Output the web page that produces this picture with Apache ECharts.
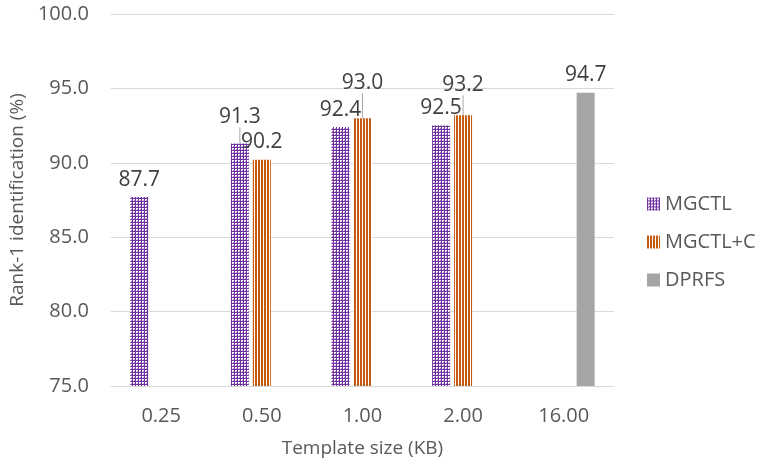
<!DOCTYPE html>
<html>
<head>
<meta charset="utf-8">
<script src="https://cdn.jsdelivr.net/npm/echarts@6/dist/echarts.min.js"></script>
<style>
  html, body { margin: 0; padding: 0; background: #fff; }
  #container { width: 762px; height: 468px; }
</style>
</head>
<body>
<div id="container"></div>
<script>
var sizes = ['0.25', '0.50', '1.00', '2.00', '16.00'];
var mgctl = [87.7, 91.3, 92.4, 92.5, null];
var mgctlC = [null, 90.2, 93.0, 93.2, null];
var dprfs = [null, null, null, null, 94.7];
var yTicks = [75, 80, 85, 90, 95, 100];

// labels that Excel pushed up to avoid overlap (extra lift in px)
var liftMgctl = [0, 9, 0, 0, 0];
var liftMgctlC = [0, 0, 18, 13, 0];

function makeTile(kind) {
    var c = document.createElement('canvas');
    var ctx = c.getContext('2d');
    if (kind === 'check') {
        c.width = 3; c.height = 3;
        ctx.fillStyle = '#ffffff';
        ctx.fillRect(0, 0, 3, 3);
        ctx.fillStyle = '#7030A0';
        ctx.fillRect(0, 0, 3, 1);
        ctx.fillRect(0, 0, 1, 3);
        ctx.fillStyle = '#B48FD0';
        ctx.fillRect(2, 2, 1, 1);
    } else {
        c.width = 3; c.height = 4;
        ctx.fillStyle = '#ffffff';
        ctx.fillRect(0, 0, 3, 4);
        ctx.fillStyle = '#C55A11';
        ctx.fillRect(0, 0, 2, 4);
    }
    return c;
}

// leader line only where the label was lifted
function withLines(values, lifts) {
    return values.map(function (v, i) {
        if (v == null) return '-';
        return {value: v, labelLine: {show: lifts[i] > 0}};
    });
}

var dom = document.getElementById('container');
var myChart = echarts.init(dom);
var font = 'Open Sans';

function barLabel() {
    return {
        show: true,
        position: 'top',
        distance: 7,
        color: '#404040',
        fontFamily: font,
        fontSize: 21,
        formatter: function (p) { return p.value.toFixed(1); }
    };
}

var option = {
    animation: false,
    textStyle: {fontFamily: font},
    grid: {left: 108, right: 148, top: 14, bottom: 82},
    legend: {
        orient: 'vertical',
        left: 642,
        top: 189,
        itemWidth: 13,
        itemHeight: 13,
        itemGap: 18,
        icon: 'rect',
        textStyle: {color: '#595959', fontSize: 20, fontFamily: font},
        data: ['MGCTL', 'MGCTL+C', 'DPRFS']
    },
    xAxis: {
        type: 'category',
        data: sizes,
        name: 'Template size (KB)',
        nameLocation: 'middle',
        nameGap: 53,
        nameTextStyle: {color: '#595959', fontSize: 19, fontFamily: font},
        axisLine: {lineStyle: {color: '#D9D9D9', width: 1}},
        axisTick: {show: false},
        axisLabel: {color: '#595959', fontSize: 20, margin: 20, fontFamily: font}
    },
    yAxis: {
        type: 'value',
        min: yTicks[0],
        max: yTicks[yTicks.length - 1],
        interval: 5,
        name: 'Rank-1 identification (%)',
        nameLocation: 'middle',
        nameGap: 80,
        nameTextStyle: {color: '#595959', fontSize: 19, fontFamily: font},
        axisLine: {show: false},
        axisTick: {show: false},
        splitLine: {lineStyle: {color: '#D9D9D9', width: 1}},
        axisLabel: {
            color: '#595959', fontSize: 20, margin: 22, fontFamily: font,
            formatter: function (v) { return v.toFixed(1); }
        }
    },
    series: [
        {
            name: 'MGCTL',
            type: 'bar',
            data: withLines(mgctl, liftMgctl),
            barWidth: 18,
            barGap: '22%',
            itemStyle: {color: {image: makeTile('check'), repeat: 'repeat'}},
            label: barLabel(),
            labelLine: {show: false, lineStyle: {color: '#A6A6A6', width: 1}},
            labelLayout: function (p) { return {dy: -liftMgctl[p.dataIndex]}; }
        },
        {
            name: 'MGCTL+C',
            type: 'bar',
            data: withLines(mgctlC, liftMgctlC),
            barWidth: 18,
            barGap: '22%',
            itemStyle: {color: {image: makeTile('stripe'), repeat: 'repeat'}},
            label: barLabel(),
            labelLine: {show: false, lineStyle: {color: '#A6A6A6', width: 1}},
            labelLayout: function (p) { return {dy: -liftMgctlC[p.dataIndex]}; }
        },
        {
            name: 'DPRFS',
            type: 'bar',
            data: dprfs,
            barWidth: 18,
            barGap: '22%',
            itemStyle: {color: '#A5A5A5'},
            label: barLabel()
        }
    ]
};
myChart.setOption(option, true);
</script>
</body>
</html>
